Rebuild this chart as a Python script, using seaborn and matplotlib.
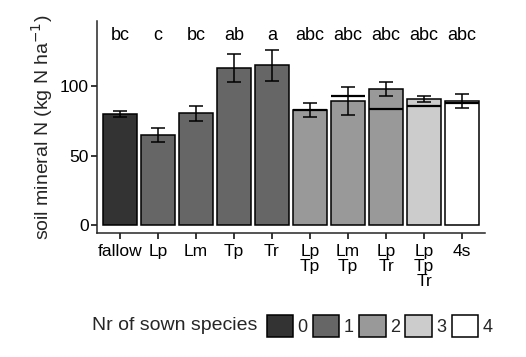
import numpy as np
import pandas as pd
import matplotlib
matplotlib.use("Agg")
import matplotlib.pyplot as plt
import seaborn as sns
from matplotlib.patches import Patch

# Data
treatments = ["fallow", "Lp", "Lm", "Tp", "Tr", "Lp\nTp", "Lm\nTp", "Lp\nTr", "Lp\nTp\nTr", "4s"]
n_species = ["0", "1", "1", "1", "1", "2", "2", "2", "3", "4"]
mineral_n = [80, 65, 80.5, 113, 115, 83, 89.5, 98, 91, 89.4]
se = [2, 5, 5.5, 10, 11, 5, 10, 5, 2.3, 5.3]
expected = [np.nan, np.nan, np.nan, np.nan, np.nan, 83, 93, 83.7, 85.6, 87.6]
letters = ["bc", "c", "bc", "ab", "a", "abc", "abc", "abc", "abc", "abc"]
species_levels = ["0", "1", "2", "3", "4"]
greys = ["#333333", "#666666", "#999999", "#cccccc", "#ffffff"]

df = pd.DataFrame({"treatment": treatments, "species": n_species, "N": mineral_n})
palette = dict(zip(species_levels, greys))

sns.set_theme(style="ticks")
plt.rcParams['font.family'] = ['Liberation Sans', 'DejaVu Sans']
plt.rcParams['axes.linewidth'] = 1.1

fig = plt.figure(figsize=(5.26, 3.57), dpi=100)
ax = fig.add_axes([0.1844, 0.3473, 0.7376, 0.5937])

sns.barplot(data=df, x="treatment", y="N", hue="species", hue_order=species_levels,
            palette=palette, dodge=False, width=0.9, errorbar=None,
            edgecolor="black", linewidth=1.1, legend=False, ax=ax)

x = np.arange(len(treatments))
ax.errorbar(x, mineral_n, yerr=se, fmt="none", ecolor="black", elinewidth=1.1,
            capsize=5, capthick=1.1, zorder=5)
ax.hlines(expected, x - 0.45, x + 0.45, colors="black", linewidth=1.6, zorder=4)

for xi, lab in zip(x, letters):
    ax.text(xi, 136.7, lab, ha="center", va="center", fontsize=13, color="black")

ax.set_xlim(-0.6, 9.6)
ax.set_ylim(-5.8, 147)
ax.set_yticks([0, 50, 100])
ax.set_xlabel("")
ax.set_ylabel("soil mineral N (kg N ha$^{-1}$)", fontsize=14, labelpad=3)
ax.tick_params(axis="both", labelsize=12.5, length=4, width=1.1, colors="black")
ax.tick_params(axis="x", pad=4)
ax.tick_params(axis="y", pad=2)
for lab in ax.get_xticklabels():
    lab.set_linespacing(0.98)
sns.despine(ax=ax)

# legend with title on the left
fig.text(92 / 526, 1 - 326 / 357, "Nr of sown species", fontsize=14, ha="left", va="center")
handles = [Patch(facecolor=c, edgecolor="black", linewidth=1.1) for c in greys]
fig.legend(handles, species_levels, loc="center left", bbox_to_anchor=(267 / 526, 1 - 326 / 357),
           ncol=5, frameon=False, fontsize=13, handlelength=1.45, handleheight=1.45,
           handletextpad=0.25, columnspacing=0.3, borderpad=0, borderaxespad=0)

fig.savefig("out.png", dpi=100)
